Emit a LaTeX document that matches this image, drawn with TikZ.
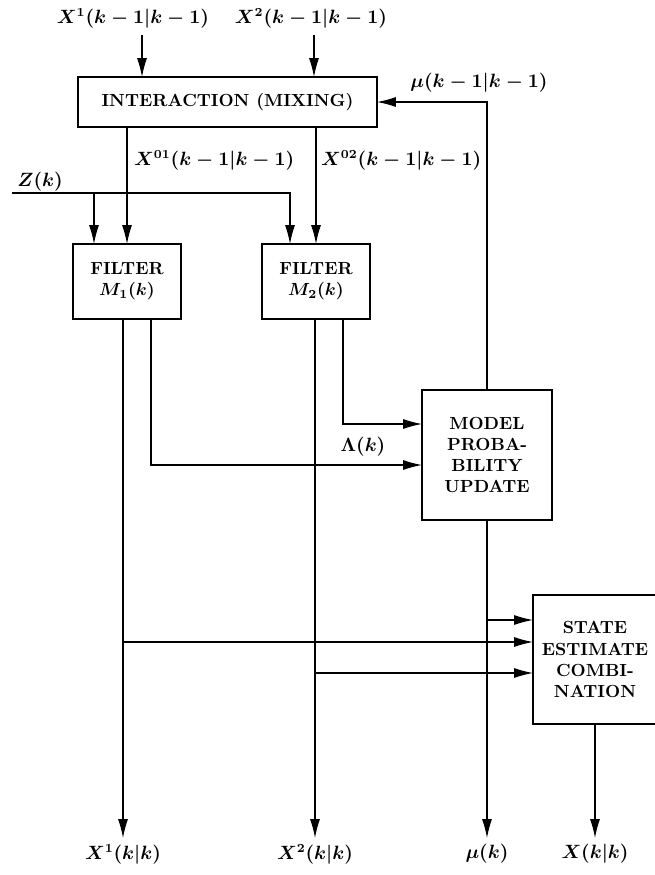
\documentclass[tikz,border=0pt]{standalone}
\usetikzlibrary{arrows.meta}
\begin{document}
\begin{tikzpicture}[x=0.02cm, y=-0.02cm,
  box/.style={draw, line width=0.7pt, inner sep=0pt, outer sep=0pt,
              align=center, font=\bfseries\boldmath},
  lbl/.style={font=\fontsize{10.7}{13}\selectfont\boldmath},
  arr/.style={-{Latex[length=3.8mm, width=2mm]}, line width=0.6pt}
]
  \useasboundingbox (0,0) rectangle (654,875);

  %-- Blocs
  \node[box, minimum width=5.98cm, minimum height=1cm]   (mix)   at (227.5,102) {INTERACTION (MIXING)};
  \node[box, minimum width=2.16cm, minimum height=1.5cm] (filt1) at (127,281.5) {FILTER\\$M_1(k)$};
  \node[box, minimum width=2.16cm, minimum height=1.5cm] (filt2) at (316,281.5) {FILTER\\$M_2(k)$};
  \node[box, minimum width=2.6cm,  minimum height=2.6cm] (prob)  at (487,455)   {MODEL\\PROBA-\\BILITY\\UPDATE};
  \node[box, minimum width=2.48cm, minimum height=2.58cm] (comb) at (595,659.5) {STATE\\ESTIMATE\\COMBI-\\NATION};

  %-- Etiquettes
  \node[lbl] (x1old) at (133,18) {$X^1(k-1|k-1)$};
  \node[lbl] (x2old) at (311,18) {$X^2(k-1|k-1)$};
  \node[lbl] (muold) at (479,83) {$\mu(k-1|k-1)$};
  \node[lbl, anchor=west] (x01) at (128,160) {$X^{01}(k-1|k-1)$};
  \node[lbl, anchor=west] (x02) at (315,160) {$X^{02}(k-1|k-1)$};
  \node[lbl] (zk)  at (40,182)  {$Z(k)$};
  \node[lbl] (lam) at (363,447) {$\Lambda(k)$};
  \node[lbl, anchor=north] (x1new) at (123,838) {$X^1(k|k)$};
  \node[lbl, anchor=north] (x2new) at (315,838) {$X^2(k|k)$};
  \node[lbl, anchor=north] (munew) at (487,838) {$\mu(k)$};
  \node[lbl, anchor=north] (xnew)  at (595,838) {$X(k|k)$};

  %-- Points
  \coordinate (in1) at (142,35);
  \coordinate (in2) at (314,35);
  \coordinate (zin) at (12,193);
  \coordinate (z1)  at (94,193);
  \coordinate (z2)  at (290,193);
  \coordinate (l1)  at (151,465);
  \coordinate (l2)  at (343,424);
  \coordinate (s1)  at (487,620);
  \coordinate (s2)  at (123,642);
  \coordinate (s3)  at (315,673);

  %-- Fleches
  \draw[arr] (in1) -- (in1 |- mix.north);
  \draw[arr] (in2) -- (in2 |- mix.north);
  \draw[arr] (prob.north) |- (mix.east);
  \draw[arr] (mix.south -| filt1.north) -- (filt1.north);
  \draw[arr] (mix.south -| filt2.north) -- (filt2.north);
  \draw[arr] (zin) -| (z2 |- filt2.north);
  \draw[arr] (z1) -- (z1 |- filt1.north);
  \draw[arr] (filt1.south -| l1) |- (prob.west |- l1);
  \draw[arr] (filt2.south -| l2) |- (prob.west |- l2);
  \draw[arr] (filt1.south -| x1new.north) -- (x1new.north);
  \draw[arr] (filt2.south -| x2new.north) -- (x2new.north);
  \draw[arr] (prob.south) -- (munew.north);
  \draw[arr] (comb.south) -- (xnew.north);
  \draw[arr] (s1) -- (s1 -| comb.west);
  \draw[arr] (s2) -- (s2 -| comb.west);
  \draw[arr] (s3) -- (s3 -| comb.west);
\end{tikzpicture}
\end{document}
